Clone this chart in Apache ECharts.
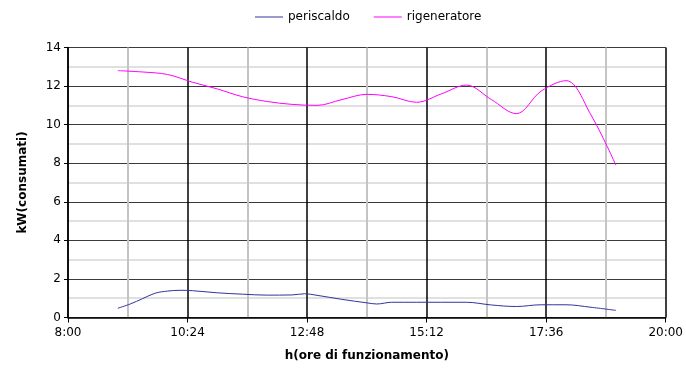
<!DOCTYPE html>
<html>
<head>
<meta charset="utf-8">
<script src="https://cdn.jsdelivr.net/npm/echarts@6/dist/echarts.min.js"></script>
<style>
html,body{margin:0;padding:0;background:#fff;}
#chart{width:686px;height:368px;}
</style>
</head>
<body>
<div id="chart"></div>
<script>
// Data
var seriesNames = ['periscaldo', 'rigeneratore'];
var xTickLabels = ['8:00', '10:24', '12:48', '15:12', '17:36', '20:00'];
var periscaldoTimes = ['9:00','9:15','9:30','9:45','10:00','10:15','10:30','11:00','11:30','12:00','12:30','12:45','13:00','13:30','14:00','14:12','14:30','15:00','15:30','16:00','16:30','17:00','17:30','18:00','18:30','19:00'];
var periscaldoValues = [0.48,0.70,0.98,1.26,1.37,1.41,1.39,1.28,1.21,1.16,1.17,1.23,1.15,0.94,0.76,0.70,0.79,0.79,0.79,0.79,0.65,0.57,0.66,0.66,0.53,0.37];
var rigeneratoreTimes = ['9:00','9:30','10:00','10:30','11:00','11:30','12:00','12:30','13:00','13:30','14:00','14:30','15:00','15:30','16:00','16:30','17:00','17:30','18:00','18:30','19:00'];
var rigeneratoreValues = [12.8,12.73,12.6,12.2,11.85,11.45,11.2,11.05,11.0,11.3,11.57,11.45,11.16,11.6,12.05,11.3,10.57,11.74,12.28,10.5,7.9];

var START_MIN = 8 * 60;
function toOffset(t) { var p = t.split(':'); return (+p[0]) * 60 + (+p[1]) - START_MIN; }
function fmt(v) {
  var m = Math.round(v + START_MIN);
  var h = Math.floor(m / 60), mm = m % 60;
  return h + ':' + (mm < 10 ? '0' : '') + mm;
}
function pairs(times, vals) { return times.map(function (t, i) { return [toOffset(t), vals[i]]; }); }

var chart = echarts.init(document.getElementById('chart'), null, { renderer: 'canvas' });
var font = 'DejaVu Sans';
chart.setOption({
  animation: false,
  backgroundColor: '#fff',
  legend: {
    left: 250, top: 6,
    icon: 'rect',
    itemWidth: 28, itemHeight: 1, itemGap: 24,
    textStyle: { fontFamily: font, fontSize: 12, color: '#000' },
    data: seriesNames
  },
  grid: { left: 68, right: 19, top: 47.5, bottom: 50.5, containLabel: false },
  xAxis: {
    type: 'value', min: 0, max: 720, interval: 144,
    name: 'h(ore di funzionamento)', nameLocation: 'middle', nameGap: 32,
    nameTextStyle: { fontFamily: font, fontSize: 12, fontWeight: 'bold', color: '#000' },
    axisLine: { show: true, onZero: false, lineStyle: { color: '#000', width: 1.5 } },
    axisTick: { show: true, length: 5, lineStyle: { color: '#000' } },
    axisLabel: {
      color: '#000', fontFamily: font, fontSize: 12, margin: 9,
      formatter: function (v) { var i = Math.round(v / 144); return xTickLabels[i] !== undefined ? xTickLabels[i] : fmt(v); }
    },
    splitLine: { show: true, lineStyle: { color: '#000', width: 1.5 } },
    minorTick: { show: false, splitNumber: 2 },
    minorSplitLine: { show: true, lineStyle: { color: '#c4c4c4', width: 2 } }
  },
  yAxis: {
    type: 'value', min: 0, max: 14, interval: 2,
    name: 'kW(consumati)', nameLocation: 'middle', nameGap: 39,
    nameTextStyle: { fontFamily: font, fontSize: 12, fontWeight: 'bold', color: '#000' },
    axisLine: { show: true, lineStyle: { color: '#000', width: 1.5 } },
    axisTick: { show: true, length: 4, lineStyle: { color: '#000' } },
    axisLabel: { color: '#000', fontFamily: font, fontSize: 12, margin: 7 },
    splitLine: { show: true, lineStyle: { color: '#3a3a3a', width: 1.2 } },
    minorTick: { show: false, splitNumber: 2 },
    minorSplitLine: { show: true, lineStyle: { color: '#e0e0e0', width: 2 } }
  },
  series: [
    {
      name: seriesNames[0], type: 'line', smooth: 0.35, symbol: 'none', showSymbol: false,
      lineStyle: { color: '#3333a0', width: 1 }, itemStyle: { color: '#3333a0' },
      data: pairs(periscaldoTimes, periscaldoValues), z: 5
    },
    {
      name: seriesNames[1], type: 'line', smooth: 0.35, symbol: 'none', showSymbol: false,
      lineStyle: { color: '#ff00ff', width: 1 }, itemStyle: { color: '#ff00ff' },
      data: pairs(rigeneratoreTimes, rigeneratoreValues), z: 5
    }
  ]
});
</script>
</body>
</html>
